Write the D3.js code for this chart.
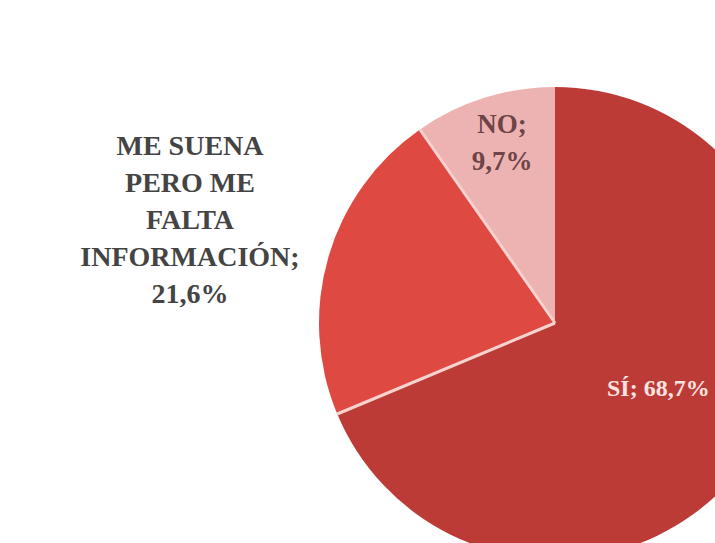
<!DOCTYPE html>
<html>
<head>
<meta charset="utf-8">
<script src="https://cdn.jsdelivr.net/npm/d3@7/dist/d3.min.js"></script>
<style>
  html, body { margin: 0; padding: 0; background: #ffffff; }
  svg { display: block; }
</style>
</head>
<body>
<script>
// Survey answers and their shares (%)
const categories = ["SÍ", "ME SUENA PERO ME FALTA INFORMACIÓN", "NO"];
const values = [68.7, 21.6, 9.7];
const valueLabels = ["68,7%", "21,6%", "9,7%"];
const colors = ["#bd3b36", "#de4a42", "#edb3b2"];

const W = 715, H = 543;
const cx = 555, cy = 323, R = 236;

const svg = d3.select("body").append("svg")
  .attr("width", W).attr("height", H);

const pie = d3.pie().sort(null).value(d => d)
  .startAngle(0).endAngle(2 * Math.PI);
const arcs = pie(values);
const arc = d3.arc().innerRadius(0).outerRadius(R);

const g = svg.append("g").attr("transform", `translate(${cx},${cy})`);

g.selectAll("path.slice")
  .data(arcs)
  .enter().append("path")
  .attr("class", "slice")
  .attr("d", arc)
  .attr("fill", (d, i) => colors[i]);

// light separators on both edges of the middle slice
const mid = arcs[1];
[mid.startAngle, mid.endAngle].forEach(a => {
  g.append("line")
    .attr("x1", 0).attr("y1", 0)
    .attr("x2", R * Math.sin(a)).attr("y2", -R * Math.cos(a))
    .attr("stroke", "#f6d3cf")
    .attr("stroke-width", 3);
});

const font = "'Liberation Serif', 'DejaVu Serif', serif";

// "SÍ" label inside its slice
svg.append("text")
  .attr("x", 607).attr("y", 396)
  .attr("font-family", font).attr("font-weight", "bold")
  .attr("font-size", 24).attr("fill", "#fbe3e1")
  .text(categories[0] + "; " + valueLabels[0]);

// "NO" label inside its slice
const noText = svg.append("text")
  .attr("font-family", font).attr("font-weight", "bold")
  .attr("font-size", 27).attr("fill", "#6e4447")
  .attr("text-anchor", "middle");
noText.append("tspan").attr("x", 502).attr("y", 133).text(categories[2] + ";");
noText.append("tspan").attr("x", 502).attr("y", 170).text(valueLabels[2]);

// outside label for the middle slice
const leftLines = ["ME SUENA", "PERO ME", "FALTA", "INFORMACIÓN;", valueLabels[1]];
const leftText = svg.append("text")
  .attr("font-family", font).attr("font-weight", "bold")
  .attr("font-size", 28).attr("fill", "#444444")
  .attr("text-anchor", "middle");
leftLines.forEach((t, i) => {
  leftText.append("tspan").attr("x", 190).attr("y", 155 + i * 37).text(t);
});
</script>
</body>
</html>
